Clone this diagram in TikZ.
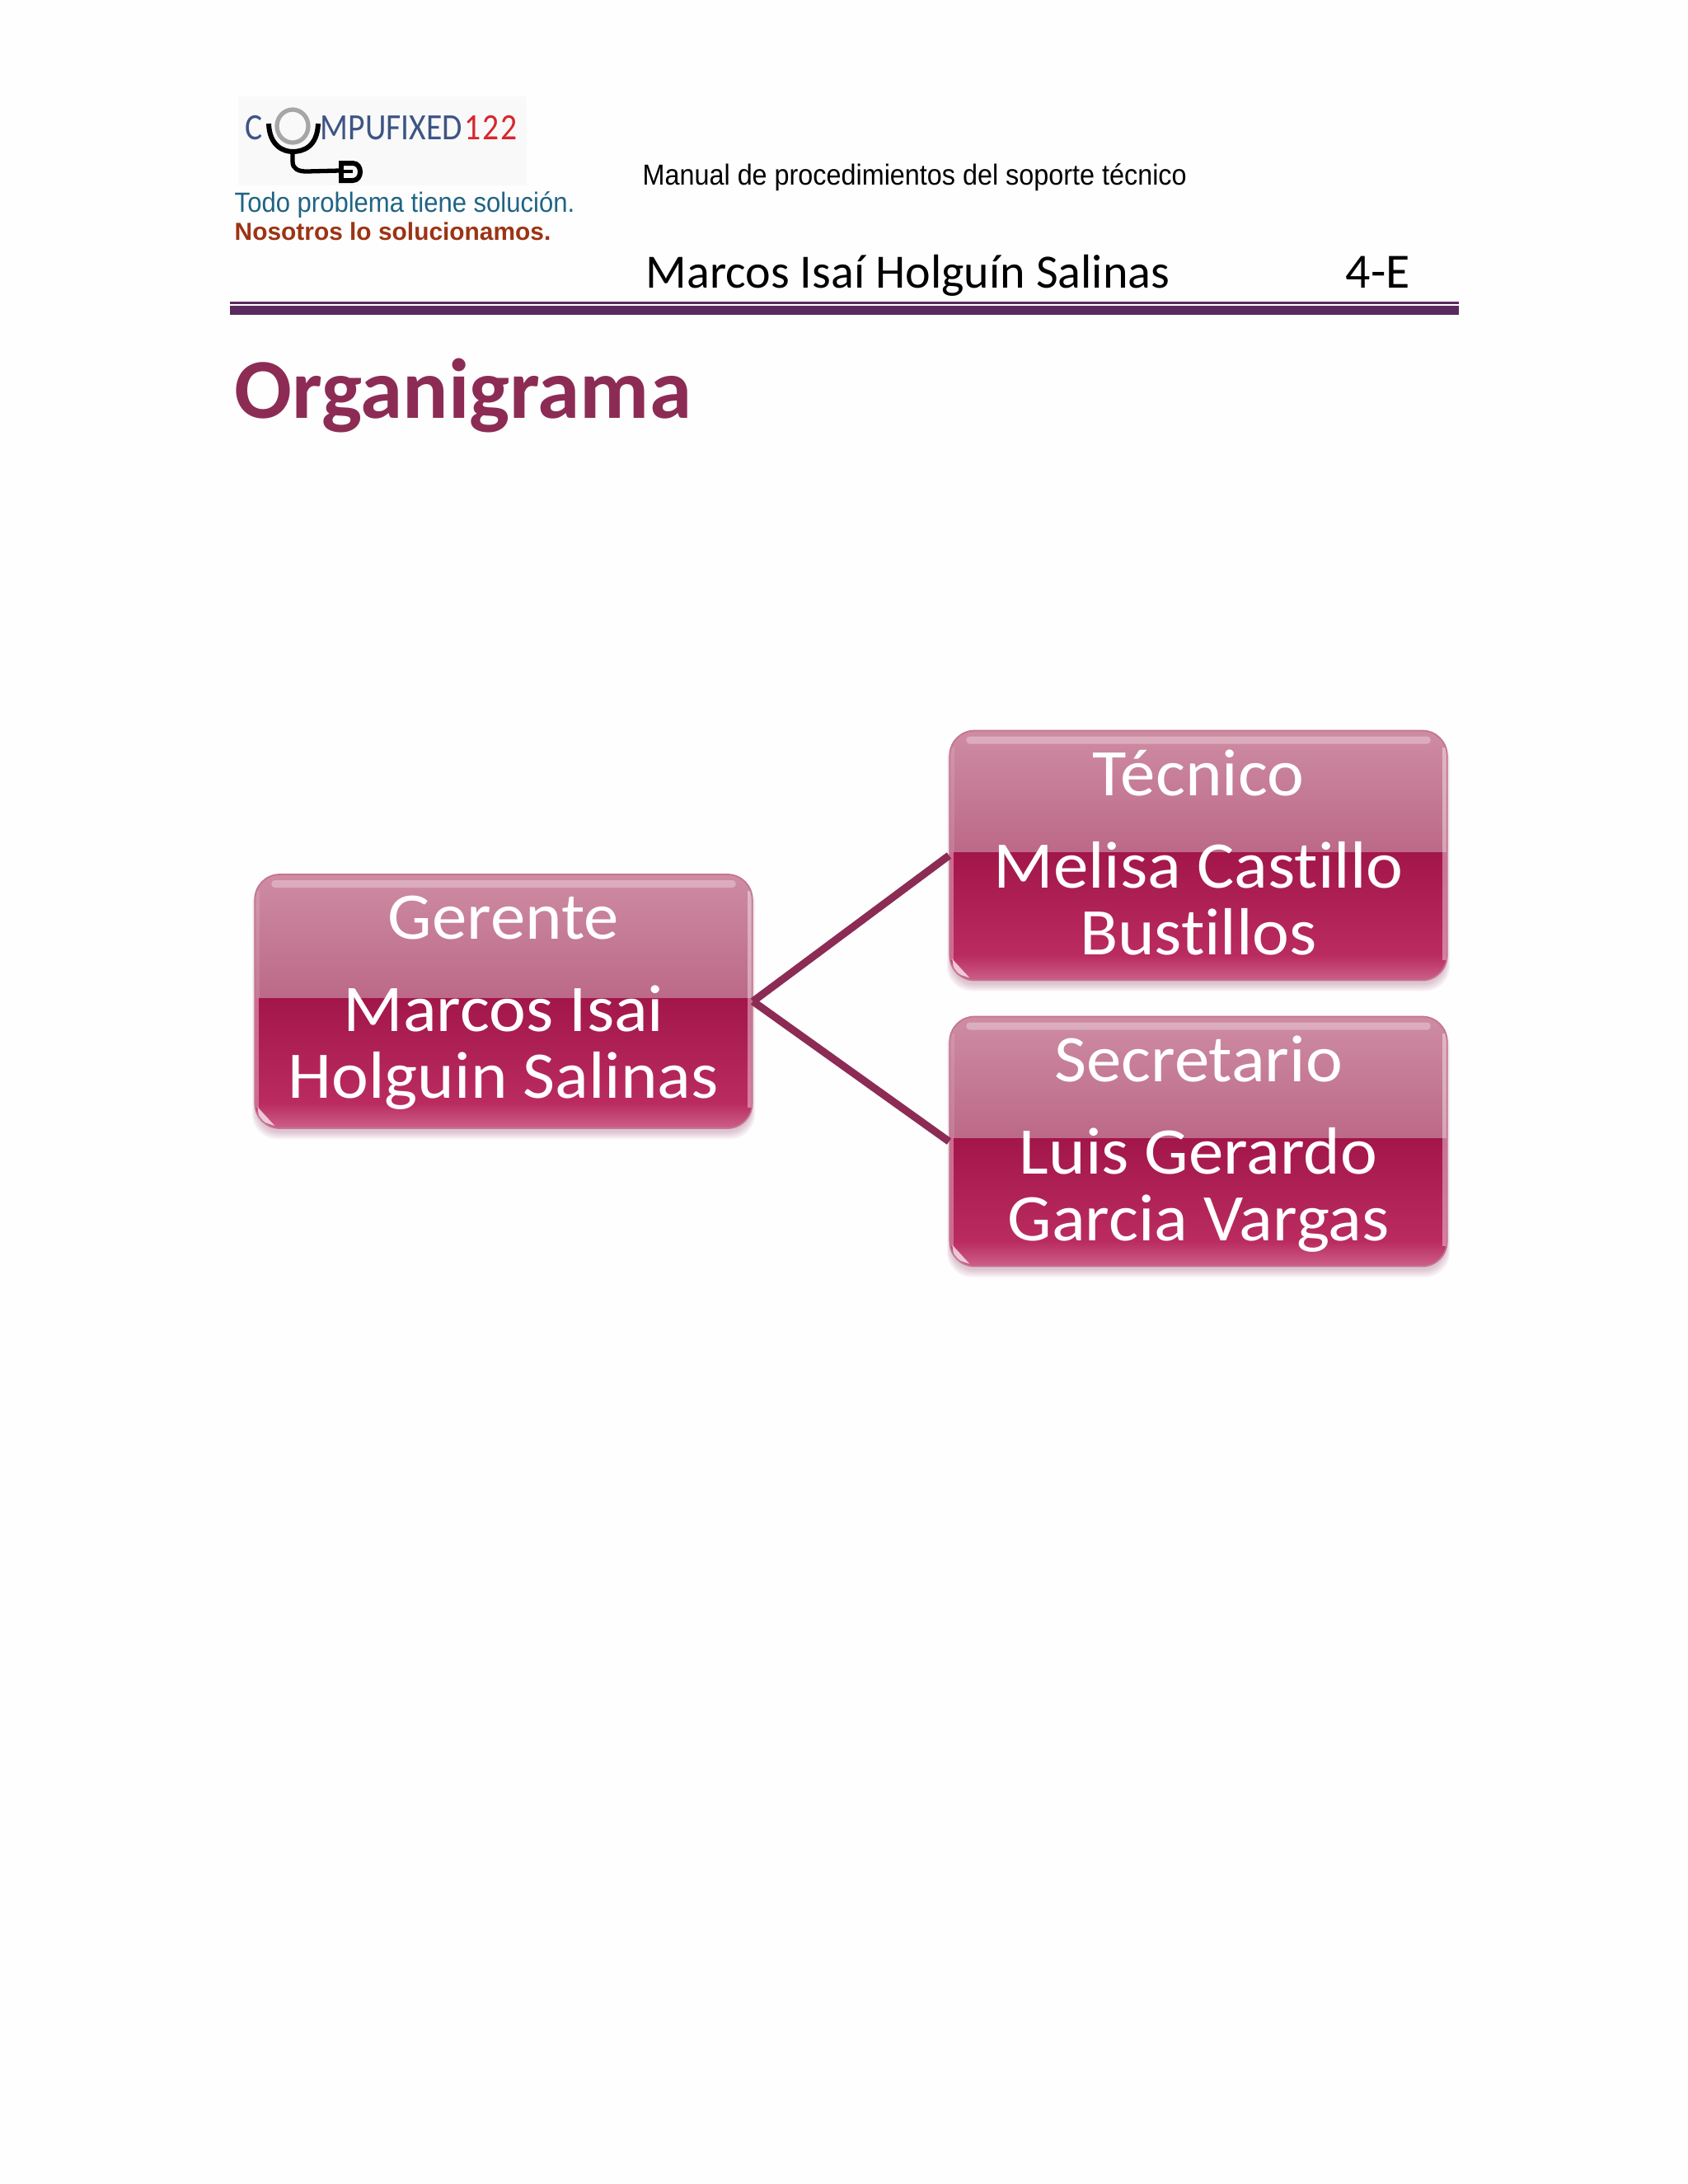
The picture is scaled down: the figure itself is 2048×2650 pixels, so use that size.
\documentclass[tikz,border=0pt]{standalone}
\usepackage{fontspec}
\setmainfont{Liberation Sans}
\newfontfamily\cajafont{Carlito}[Ligatures=CommonOff, FakeStretch=1.05]
\newfontfamily\autorfont{Carlito}[Ligatures=CommonOff]
\newfontfamily\logofont{Carlito}[FakeStretch=0.88]
\newfontfamily\estrecha{Liberation Sans}[FakeStretch=0.92]
\usetikzlibrary{calc}

\definecolor{fondo}{HTML}{FEFEFE}
\definecolor{fondologo}{HTML}{F9F9F9}
\definecolor{morado}{HTML}{5A2A5E}
\definecolor{vino}{HTML}{8C2C55}
\definecolor{azullogo}{HTML}{3D5585}
\definecolor{rojologo}{HTML}{D8262E}
\definecolor{azultexto}{HTML}{1F6484}
\definecolor{rojotexto}{HTML}{9C3414}
\definecolor{rosaA}{HTML}{CE8CA3}
\definecolor{rosaB}{HTML}{A8446A}
\definecolor{rosaC}{HTML}{A3164A}
\definecolor{rosaD}{HTML}{BA2C60}
\definecolor{rosaE}{HTML}{CC6088}
\definecolor{bordecaja}{HTML}{C47592}

\tikzset{
    cajaBrillo/.style={
        rounded corners=0.3cm, draw=bordecaja, line width=0.5pt, minimum width=6.03cm,
        path picture={
            \shade[sharp corners, top color=rosaA, bottom color=rosaB]
                (path picture bounding box.north west) rectangle ([yshift=0.04cm]path picture bounding box.east);
            \shade[sharp corners, top color=rosaC, bottom color=rosaD]
                ([yshift=0.04cm]path picture bounding box.west) rectangle ([yshift=0.3cm]path picture bounding box.south east);
            \shade[sharp corners, top color=rosaD, bottom color=rosaE]
                ([yshift=0.3cm]path picture bounding box.south west) rectangle (path picture bounding box.south east);
            \fill[white, opacity=.3, rounded corners=0.04cm]
                ([xshift=0.2cm,yshift=-0.07cm]path picture bounding box.north west) rectangle ([xshift=-0.2cm,yshift=-0.16cm]path picture bounding box.north east);
            \fill[white, opacity=.4, sharp corners]
                ([xshift=-0.06cm,yshift=-0.2cm]path picture bounding box.north east) rectangle ([yshift=0.25cm]path picture bounding box.south east);
            \fill[white, opacity=.12, sharp corners]
                ([yshift=-0.2cm]path picture bounding box.north west) rectangle ([xshift=0.06cm,yshift=0.04cm]path picture bounding box.west);
            \fill[rosaD!70!white, sharp corners]
                ([yshift=0.04cm]path picture bounding box.west) rectangle ([xshift=0.05cm,yshift=0.25cm]path picture bounding box.south west);
            \fill[white, opacity=.7, sharp corners]
                ([xshift=0.03cm,yshift=0.26cm]path picture bounding box.south west)
                .. controls ([xshift=0.05cm,yshift=0.09cm]path picture bounding box.south west) .. ([xshift=0.24cm,yshift=0.03cm]path picture bounding box.south west)
                .. controls ([xshift=0.13cm,yshift=0.14cm]path picture bounding box.south west) .. cycle;
        }
    },
    sombra/.style={fill=vino, opacity=.06},
    conector/.style={draw=vino, line width=2.6pt},
    tituloCaja/.style={anchor=base, text=white, inner sep=0pt, font=\cajafont\fontsize{23}{24}\selectfont},
    tira/.style={fill=morado},
    logoLetra/.style={anchor=base west, inner sep=0pt, font=\logofont\fontsize{12.8}{14}\selectfont},
}

\begin{document}
\begin{tikzpicture}[x=0.01cm, y=-0.01cm]
    \fill[fondo] (0,0) rectangle (2048,2650);
    \useasboundingbox (0,0) rectangle (2048,2650);

    % logo
    \fill[fondologo] (289,117) rectangle (639,225);
    \node[logoLetra, text=azullogo] (logoC) at (297,169) {C};
    \node[logoLetra, text=azullogo] (logoM) at (388,169) {MPUFIXED};
    \node[logoLetra, text=rojologo] (logoN) at (563,169) {\addfontfeature{LetterSpace=4}122};
    \draw[gray!70, line width=1.5pt] (355,153) ellipse (19 and 20);
    \draw[black, line width=1.7pt] (326,150) .. controls (327,178) and (345,184) .. (355,184)
        .. controls (368,184) and (385,178) .. (386,150);
    \draw[black, line width=1.5pt, line cap=round] (355,184) -- (355,196) .. controls (355,205) and (362,208) .. (372,208) -- (412,207);
    \draw[black, line width=1.7pt] (414,198) -- (428,198) .. controls (440,198) and (440,219) .. (428,219) -- (414,219) -- cycle;
    \draw[black, line width=1.2pt] (414,208) -- (428,208);

    % encabezado
    \node[anchor=base west, inner sep=0pt, text=azultexto, font=\estrecha\fontsize{9.6}{11}\selectfont] (lema) at (284,257) {Todo problema tiene solución.};
    \node[anchor=base west, inner sep=0pt, text=rojotexto, font=\bfseries\fontsize{8.5}{11}\selectfont] (nosotros) at (284,291) {Nosotros lo solucionamos.};
    \node[anchor=base west, inner sep=0pt, font=\estrecha\fontsize{10}{12}\selectfont] (manual) at (779,224) {Manual de procedimientos del soporte técnico};
    \node[anchor=base west, inner sep=0pt, font=\autorfont\fontsize{16.5}{18}\selectfont] (autor) at (783,349) {Marcos Isaí Holguín Salinas};
    \node[anchor=base west, inner sep=0pt, font=\autorfont\fontsize{17}{18}\selectfont] (grupo) at (1632,349) {4-E};
    \fill[tira] (279,366) rectangle (1770,369);
    \fill[tira] (279,371) rectangle (1770,382);
    \node[anchor=base west, inner sep=0pt, text=vino, font=\autorfont\bfseries\fontsize{29.4}{32}\selectfont] (titulo) at (284,507) {Organigrama};

    % cajas
    \foreach \caja/\cx/\cy/\alto/\arriba/\cargo/\lineaA/\lineaB in {
        gerente/611/1215/308/1061/Gerente/Marcos Isai/Holguin Salinas,
        tecnico/1454/1038/303/887/Técnico/Melisa Castillo/Bustillos,
        secretario/1454/1385/303/1234/Secretario/Luis Gerardo/Garcia Vargas} {
        \foreach \g in {1,...,5} {
            \fill[sombra, rounded corners=0.3cm] (\cx-300-\g,\cy-\alto/2+6) rectangle (\cx+300+\g,\cy+\alto/2+3+\g*2);
        }
        \node[cajaBrillo, minimum height={\alto*0.01cm}] (\caja) at (\cx,\cy) {};
        \node[tituloCaja] (\caja T) at (\cx,\arriba+78) {\cargo};
        \node[tituloCaja] (\caja A) at (\cx,\arriba+190) {\lineaA};
        \node[tituloCaja] (\caja B) at (\cx,\arriba+271) {\lineaB};
    }

    \draw[conector] (gerente.east) -- (tecnico.west);
    \draw[conector] (gerente.east) -- (secretario.west);
\end{tikzpicture}
\end{document}
